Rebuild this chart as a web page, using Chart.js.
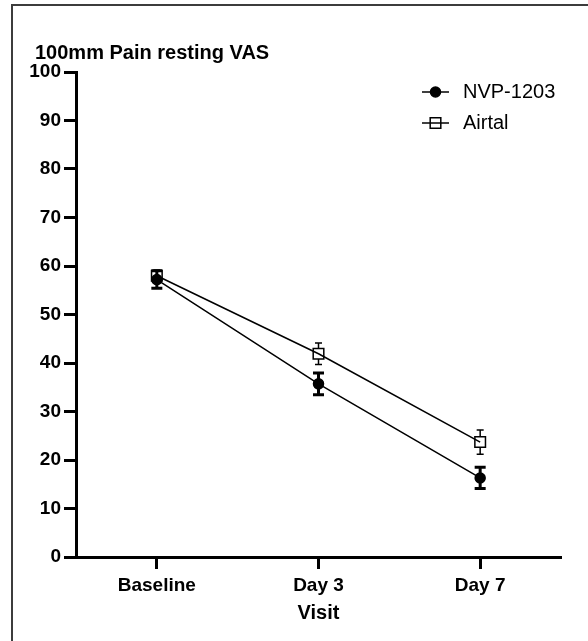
<!DOCTYPE html>
<html>
<head>
<meta charset="utf-8">
<script src="https://cdn.jsdelivr.net/npm/chart.js@4"></script>
<style>
  html, body { margin: 0; padding: 0; background: #fff; }
  #wrap { position: relative; width: 588px; height: 641px; overflow: hidden; }
  #frame { position: absolute; left: 11px; top: 4px; width: 700px; height: 700px;
           border-left: 2px solid #3c3c3c; border-top: 2px solid #3c3c3c; }
  #chart { position: absolute; left: 0; top: 0; }
</style>
</head>
<body>
<div id="wrap">
  <div id="frame"></div>
  <canvas id="chart" width="588" height="641"></canvas>
</div>
<script>
// Data (mean +/- error)
const visits = ['Baseline', 'Day 3', 'Day 7'];
const nvpMean = [57.2, 35.7, 16.3];
const nvpErr = [1.8, 2.25, 2.2];
const airtalMean = [58.0, 41.9, 23.7];
const airtalErr = [1.2, 2.2, 2.5];
const yMin = 0, yMax = 100, yStep = 10;

const FONT = "'Liberation Sans', Arial, Helvetica, sans-serif";

// Error bars drawn under lines and markers
const errorBars = {
    id: 'errorBars',
    beforeDatasetsDraw(chart) {
        const ctx = chart.ctx;
        const y = chart.scales.y;
        chart.data.datasets.forEach((ds, i) => {
            const meta = chart.getDatasetMeta(i);
            ctx.save();
            ctx.strokeStyle = '#000';
            ctx.lineWidth = ds.errLineWidth;
            meta.data.forEach((pt, j) => {
                const v = ds.data[j], e = ds.errors[j];
                const top = y.getPixelForValue(v + e);
                const bot = y.getPixelForValue(v - e);
                const gap = ds.errGap || 0;
                const cap = ds.errCap;
                ctx.beginPath();
                ctx.moveTo(pt.x, pt.y - gap); ctx.lineTo(pt.x, top);
                ctx.moveTo(pt.x, pt.y + gap); ctx.lineTo(pt.x, bot);
                ctx.moveTo(pt.x - cap, top); ctx.lineTo(pt.x + cap, top);
                ctx.moveTo(pt.x - cap, bot); ctx.lineTo(pt.x + cap, bot);
                ctx.stroke();
            });
            ctx.restore();
        });
    }
};

// Legend inside the plot, top right, line + marker like the figure
const insideLegend = {
    id: 'insideLegend',
    afterDraw(chart, args, opts) {
        const { ctx, chartArea } = chart;
        ctx.save();
        ctx.font = opts.font;
        ctx.textBaseline = 'middle';
        chart.data.datasets.forEach((ds, i) => {
            const x0 = chartArea.right - opts.right;
            const yy = chartArea.top + opts.top + i * opts.rowGap;
            const cx = x0 + opts.lineLen / 2;
            ctx.strokeStyle = '#000';
            ctx.lineWidth = ds.borderWidth;
            ctx.beginPath();
            ctx.moveTo(x0, yy); ctx.lineTo(x0 + opts.lineLen, yy);
            ctx.stroke();
            ctx.lineWidth = ds.pointBorderWidth;
            ctx.beginPath();
            if (ds.pointStyle === 'circle') {
                ctx.arc(cx, yy, ds.pointRadius, 0, Math.PI * 2);
                ctx.fillStyle = ds.pointBackgroundColor;
                ctx.fill();
            } else {
                const s = ds.pointRadius * Math.SQRT1_2;
                ctx.rect(cx - s, yy - s, 2 * s, 2 * s);
            }
            ctx.stroke();
            ctx.fillStyle = '#000';
            ctx.fillText(ds.label, x0 + opts.textOffset, yy);
        });
        ctx.restore();
    }
};

// The y labels need room on the left, so the title is nudged right after layout
const titleShift = {
    id: 'titleShift',
    afterLayout(chart, args, opts) {
        if (chart.titleBlock) {
            chart.titleBlock.left += opts.dx;
            chart.titleBlock.right += opts.dx;
        }
    }
};

const tickFont = { family: FONT, size: 19, weight: 'bold' };

new Chart(document.getElementById('chart'), {
    type: 'line',
    data: {
        labels: visits,
        datasets: [
            {
                label: 'NVP-1203',
                data: nvpMean,
                errors: nvpErr,
                borderColor: '#000',
                borderWidth: 1.5,
                pointStyle: 'circle',
                pointRadius: 5,
                pointBackgroundColor: '#000',
                pointBorderColor: '#000',
                pointBorderWidth: 1.5,
                errLineWidth: 3,
                errCap: 5.5,
                errGap: 0,
                fill: false,
                tension: 0
            },
            {
                label: 'Airtal',
                data: airtalMean,
                errors: airtalErr,
                borderColor: '#000',
                borderWidth: 1.5,
                pointStyle: 'rect',
                pointRadius: 7.5,
                pointBackgroundColor: 'rgba(0,0,0,0)',
                pointBorderColor: '#000',
                pointBorderWidth: 1.5,
                errLineWidth: 1.5,
                errCap: 3.5,
                errGap: 5.3,
                fill: false,
                tension: 0
            }
        ]
    },
    options: {
        responsive: false,
        animation: false,
        layout: { padding: { left: 22, right: 27, top: 0, bottom: 0 } },
        scales: {
            x: {
                offset: true,
                grid: { display: true, drawOnChartArea: false, drawTicks: true, tickLength: 12, tickWidth: 3, tickColor: '#000' },
                border: { display: true, width: 3, color: '#000' },
                ticks: { color: '#000', font: tickFont, padding: 5 },
                title: { display: true, text: 'Visit', color: '#000', font: { family: FONT, size: 20, weight: 'bold' }, padding: { top: 0, bottom: 16 } },
                afterFit: s => { s.height = 84; }
            },
            y: {
                min: yMin,
                max: yMax,
                grid: { display: true, drawOnChartArea: false, drawTicks: true, tickLength: 12, tickWidth: 3, tickColor: '#000' },
                border: { display: true, width: 3, color: '#000' },
                ticks: { stepSize: yStep, color: '#000', font: tickFont, padding: 3 },
                afterFit: s => { s.width = 54; }
            }
        },
        plugins: {
            legend: { display: false },
            tooltip: { enabled: false },
            title: {
                display: true,
                text: '100mm Pain resting VAS',
                align: 'start',
                color: '#000',
                font: { family: FONT, size: 20, weight: 'bold' },
                padding: { top: 41, bottom: 7 }
            },
            titleShift: { dx: 13 },
            insideLegend: {
                font: "20px 'Liberation Sans', Arial, sans-serif",
                right: 139, top: 20, rowGap: 31, lineLen: 27, textOffset: 41
            }
        }
    },
    plugins: [errorBars, insideLegend, titleShift]
});
</script>
</body>
</html>
